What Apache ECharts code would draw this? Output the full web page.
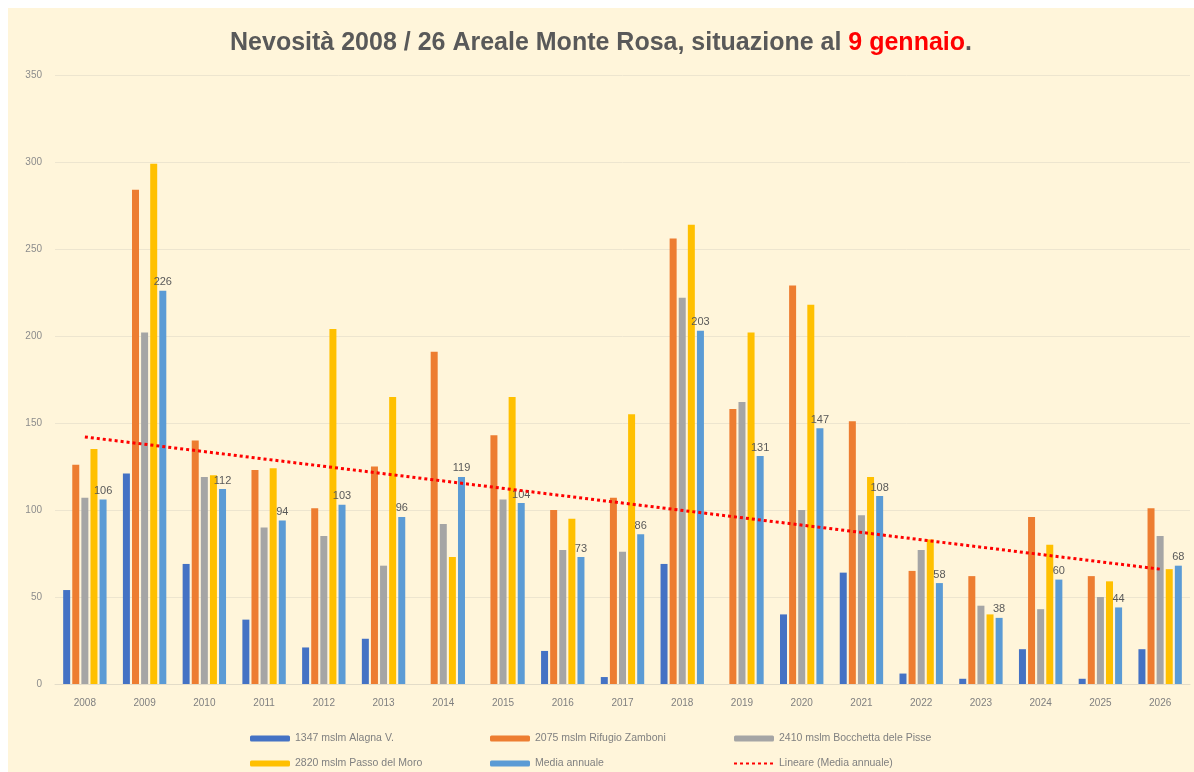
<!DOCTYPE html>
<html>
<head>
<meta charset="utf-8">
<script src="https://cdn.jsdelivr.net/npm/echarts@6/dist/echarts.min.js"></script>
<style>
  body { margin: 0; background: #fff; }
  #chart { position: absolute; left: 8px; top: 8px; width: 1186px; height: 764px; background: #FFF5DA; }
</style>
</head>
<body>
<div id="chart"></div>
<script>
const years = ['2008','2009','2010','2011','2012','2013','2014','2015','2016','2017','2018','2019','2020','2021','2022','2023','2024','2025','2026']
const alagna = [54, 121, 69, 37, 21, 26, 0, 0, 19, 4, 69, 0, 40, 64, 6, 3, 20, 3, 20]
const zamboni = [126, 284, 140, 123, 101, 125, 191, 143, 100, 107, 256, 158, 229, 151, 65, 62, 96, 62, 101]
const bocchetta = [107, 202, 119, 90, 85, 68, 92, 106, 77, 76, 222, 162, 100, 97, 77, 45, 43, 50, 85]
const passoMoro = [135, 299, 120, 124, 204, 165, 73, 165, 95, 155, 264, 202, 218, 119, 83, 40, 80, 59, 66]
const media = [106, 226, 112, 94, 103, 96, 119, 104, 73, 86, 203, 131, 147, 108, 58, 38, 60, 44, 68]
// estremi della linea di tendenza
const trendEnds = [142, 66]
const yTicks = [0, 50, 100, 150, 200, 250, 300, 350]

const names = ['1347 mslm Alagna V.', '2075 mslm Rifugio Zamboni', '2410 mslm Bocchetta dele Pisse',
  '2820 mslm Passo del Moro', 'Media annuale', 'Lineare (Media annuale)']
const colors = ['#4472C4', '#ED7D31', '#A5A5A5', '#FFC000', '#5B9BD5']

const barSeries = (name, data, color, label) => ({
  name: name,
  type: 'bar',
  data: data,
  barWidth: 7,
  barGap: '30%',
  itemStyle: { color: color },
  label: label ? { show: true, position: 'top', distance: 3, fontSize: 11, color: '#595959', fontFamily: 'Liberation Sans' } : { show: false },
  z: 2
})

const legendBase = {
  orient: 'vertical',
  top: 725,
  height: 39,
  padding: 0,
  itemWidth: 40,
  itemHeight: 6,
  itemGap: 14,
  textStyle: { fontSize: 10.5, color: '#808080', fontFamily: 'Liberation Sans' }
}

let myChart = echarts.init(document.getElementById('chart'))
myChart.setOption({
  animation: false,
  title: {
    text: '{a|Nevosità 2008 / 26 Areale Monte Rosa, situazione al }{b|9 gennaio}{a|.}',
    left: 'center',
    top: 18,
    textStyle: {
      rich: {
        a: { fontSize: 25, fontWeight: 'bold', color: '#595959', fontFamily: 'Liberation Sans' },
        b: { fontSize: 25, fontWeight: 'bold', color: '#FF0000', fontFamily: 'Liberation Sans' }
      }
    }
  },
  legend: [
    Object.assign({}, legendBase, { left: 242, data: [names[0], names[3]] }),
    Object.assign({}, legendBase, { left: 482, data: [names[1], names[4]] }),
    Object.assign({}, legendBase, { left: 725, data: [names[2], { name: names[5], itemStyle: { opacity: 0 } }] })
  ],
  grid: { left: 47, right: 4, top: 67, bottom: 88 },
  xAxis: {
    type: 'category',
    data: years,
    axisTick: { show: false },
    axisLine: { lineStyle: { color: '#E3DCC8' } },
    axisLabel: { fontSize: 10, color: '#808080', margin: 14, fontFamily: 'Liberation Sans' }
  },
  yAxis: {
    type: 'value',
    min: yTicks[0],
    max: yTicks[yTicks.length - 1],
    interval: 50,
    axisLine: { show: false },
    axisTick: { show: false },
    axisLabel: { fontSize: 10, color: '#8C8C8C', margin: 13, fontFamily: 'Liberation Sans' },
    splitLine: { lineStyle: { color: '#EDE5CF' } }
  },
  series: [
    barSeries(names[0], alagna, colors[0]),
    barSeries(names[1], zamboni, colors[1]),
    barSeries(names[2], bocchetta, colors[2]),
    barSeries(names[3], passoMoro, colors[3]),
    barSeries(names[4], media, colors[4], true),
    {
      name: names[5],
      type: 'line',
      data: [[years[0], trendEnds[0]], [years[years.length - 1], trendEnds[1]]],
      symbol: 'none',
      lineStyle: { color: '#FF0000', width: 3, type: [3, 3] },
      itemStyle: { color: '#FF0000' },
      z: 5
    }
  ]
})
</script>
</body>
</html>
